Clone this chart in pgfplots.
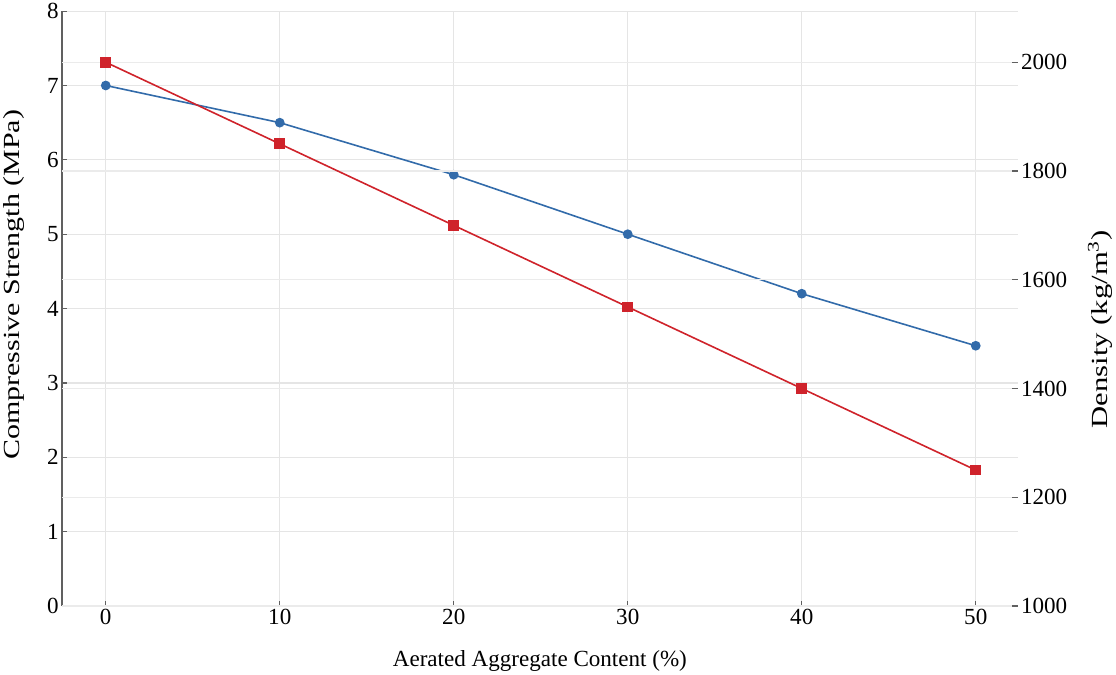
\documentclass[border=0pt]{standalone}
\usepackage{fontspec}
\setmainfont{Liberation Serif}
\usepackage{graphicx}
\usepackage{pgfplots}
\pgfplotsset{compat=1.18}
\definecolor{strengthblue}{HTML}{326BAA}
\definecolor{densityred}{HTML}{CF232B}
\definecolor{axisgray}{HTML}{606060}

\begin{document}
\begin{tikzpicture}
\pgfplotsset{every axis/.append style={
  scale only axis, width=949bp, height=591bp, xmin=-2.5, xmax=52.4,
  /pgf/number format/assume math mode=true,
  /pgf/number format/set thousands separator={},
  tick label style={font=\fontsize{23}{25}\selectfont},
  label style={font=\fontsize{23}{26}\selectfont},
  tick align=inside, major tick length=5bp,
  tick style={axisgray, line width=1.2pt}}}
% left axis: compressive strength
\begin{axis}[axis x line*=bottom, axis y line*=left,
  ymin=0, ymax=8, ytick={0,...,8}, xtick={0,10,...,50},
  grid=major, grid style={black!10, line width=1.2pt},
  axis line style={axisgray, line width=1.8pt},
  xlabel={Aerated Aggregate Content (\%)},
  xlabel style={yshift=-18bp},
  ylabel={\scalebox{1.3}[1]{Compressive Strength (MPa)}},
  ylabel style={at={(axis description cs:-0.036,0.54)}}]
\addplot[strengthblue, line width=1.6pt, mark=*, mark size=4bp]
  coordinates {(0,7.0) (10,6.5) (20,5.8) (30,5.0) (40,4.2) (50,3.5)};
\end{axis}
% right axis: density
\begin{axis}[axis x line=none, axis y line*=right,
  ymin=1000, ymax=2094, ytick={1000,1200,...,2000},
  ymajorgrids, grid style={black!8, line width=1.2pt},
  axis line style={draw=none},
  ylabel={\scalebox{1.33}[1]{Density (kg/m\textsuperscript{3})}},
  ylabel style={at={(axis description cs:1.07,0.465)}}]
\addplot[densityred, line width=1.6pt, mark=square*, mark size=4.5bp]
  coordinates {(0,2000) (10,1850) (20,1700) (30,1550) (40,1400) (50,1250)};
\end{axis}
\end{tikzpicture}
\end{document}
